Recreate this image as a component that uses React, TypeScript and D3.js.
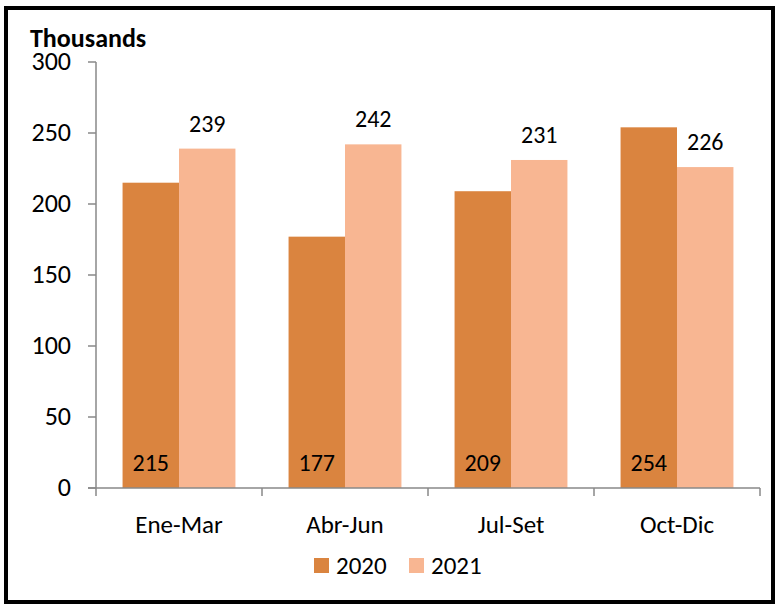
import React from "react";
import * as d3 from "d3";

const categories = ["Ene-Mar", "Abr-Jun", "Jul-Set", "Oct-Dic"];
const series2020 = [215, 177, 209, 254];
const series2021 = [239, 242, 231, 226];
const seriesNames = ["2020", "2021"];
const yTicks = [0, 50, 100, 150, 200, 250, 300];

const W = 779;
const H = 605;
const FONT = "Carlito, Calibri, Lato, 'Open Sans', sans-serif";
const colors = ["#DA843F", "#F8B692"];

export default function App() {
  const left = 96;
  const right = 760;
  const top = 62;
  const bottom = 488;
  const x = d3.scaleBand<string>().domain(categories).range([left, right]).paddingInner(0).paddingOuter(0);
  const y = d3.scaleLinear().domain([0, 300]).range([bottom, top]);
  const bw = x.bandwidth();
  const inner = d3.scaleBand<string>().domain(seriesNames).range([bw * 0.16, bw * 0.84]);
  const data = [series2020, series2021];
  const fs = 25;

  return (
    <svg width={W} height={H} style={{ position: "absolute", left: 0, top: 0 }} fontFamily={FONT}>
      <rect x={0} y={0} width={W} height={H} fill="#fff" />
      <rect x={6} y={8} width={767} height={594} fill="none" stroke="#000" strokeWidth={4} />
      <text x={30} y={47} fontSize={26} fontWeight="bold" fill="#000">Thousands</text>
      {data.map((vals, si) =>
        vals.map((v, i) => (
          <rect
            key={`${si}-${i}`}
            x={(x(categories[i]) ?? 0) + (inner(seriesNames[si]) ?? 0)}
            y={y(v)}
            width={inner.bandwidth()}
            height={bottom - y(v)}
            fill={colors[si]}
          />
        ))
      )}
      {series2020.map((v, i) => (
        <text
          key={`l0-${i}`}
          x={(x(categories[i]) ?? 0) + (inner("2020") ?? 0) + inner.bandwidth() / 2}
          y={bottom - 17}
          fontSize={24}
          textAnchor="middle"
          fill="#000"
        >{v}</text>
      ))}
      {series2021.map((v, i) => (
        <text
          key={`l1-${i}`}
          x={(x(categories[i]) ?? 0) + (inner("2021") ?? 0) + inner.bandwidth() / 2}
          y={y(v) - 17}
          fontSize={24}
          textAnchor="middle"
          fill="#000"
        >{v}</text>
      ))}
      <line x1={left} x2={left} y1={top} y2={bottom} stroke="#888" strokeWidth={1.5} />
      <line x1={left - 8} x2={right} y1={bottom} y2={bottom} stroke="#888" strokeWidth={1.5} />
      {yTicks.map((t) => (
        <g key={t}>
          <line x1={left - 8} x2={left} y1={y(t)} y2={y(t)} stroke="#888" strokeWidth={1.5} />
          <text x={71} y={y(t) + 8} fontSize={26} textAnchor="end" fill="#000">{t}</text>
        </g>
      ))}
      {[...categories.map((c) => x(c) ?? 0), right].map((px, i) => (
        <line key={i} x1={px} x2={px} y1={bottom} y2={bottom + 8} stroke="#888" strokeWidth={1.5} />
      ))}
      {categories.map((c) => (
        <text key={c} x={(x(c) ?? 0) + bw / 2} y={533} fontSize={fs} textAnchor="middle" fill="#000">{c}</text>
      ))}
      {seriesNames.map((s, i) => (
        <g key={s}>
          <rect x={314 + i * 95} y={558} width={15} height={15} fill={colors[i]} />
          <text x={336 + i * 95} y={574} fontSize={fs} fill="#000">{s}</text>
        </g>
      ))}
    </svg>
  );
}
